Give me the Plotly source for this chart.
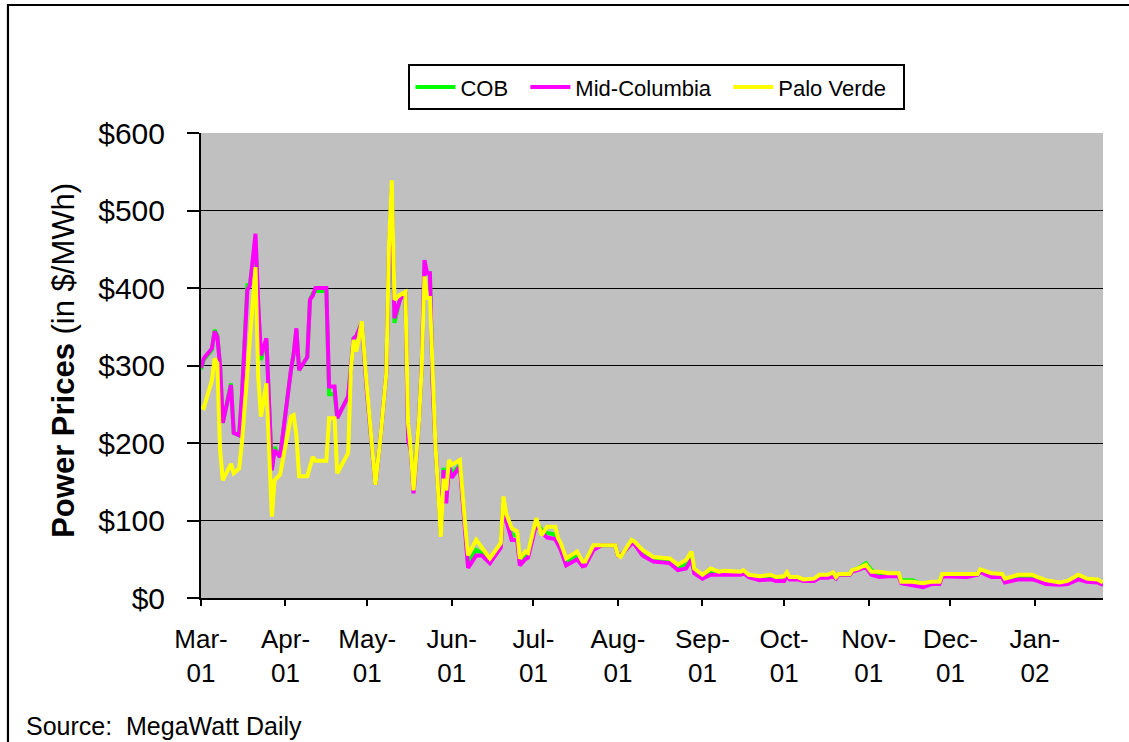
import pandas as pd
import plotly.graph_objects as go

# Day offsets from 2001-03-01
day_offsets = [0, 1, 4, 5, 6, 7, 8, 11, 12, 14, 15, 17, 18, 20, 21, 22, 24, 26, 27, 29,
               33, 34, 35, 36, 39, 40, 41, 42, 46, 47, 49, 50, 54, 55, 56, 57, 59, 61, 63, 64,
               66, 68, 69, 70, 71, 73, 75, 76, 77, 78, 80, 81, 82, 83, 84, 85, 86, 88, 89, 90,
               91, 92, 95, 97, 98, 101, 103, 106, 110, 111, 112, 114, 116, 117, 119, 120, 123, 125, 127, 130,
               131, 132, 134, 138, 140, 141, 144, 147, 152, 153, 154, 158, 159, 162, 166, 172, 175, 178, 180, 181,
               184, 187, 190, 192, 198, 199, 201, 205, 209, 211, 214, 215, 216, 219, 221, 225, 227, 230, 232, 233,
               234, 238, 239, 241, 244, 246, 249, 252, 256, 257, 261, 265, 268, 271, 272, 276, 281, 285, 286, 288,
               290, 294, 295, 300, 305, 307, 310, 315, 318, 322, 325, 329, 331]

cob = [295, 307, 320, 346, 339, 300, 226, 277, 213, 210, 262, 404, 406, 460, 375, 307, 333, 165, 195, 182,
       294, 315, 346, 294, 311, 385, 393, 396, 396, 263, 263, 232, 260, 300, 335, 338, 355, 262, 190, 146,
       212, 290, 450, 530, 355, 385, 395, 210, 192, 137, 230, 300, 425, 419, 419, 278, 200, 83, 168, 130,
       175, 160, 172, 88, 45, 62, 58, 48, 68, 128, 104, 82, 80, 46, 54, 55, 98, 88, 84, 82,
       73, 66, 46, 55, 44, 44, 65, 68, 68, 55, 54, 72, 71, 58, 50, 48, 39, 44, 55, 35,
       27, 34, 32, 32, 32, 34, 28, 25, 27, 24, 25, 30, 25, 25, 23, 23, 28, 28, 30, 26,
       30, 30, 36, 38, 45, 36, 30, 30, 30, 23, 23, 18, 20, 20, 30, 29, 29, 30, 36, 32,
       30, 29, 22, 27, 27, 24, 20, 18, 20, 27, 23, 22, 18]

mid_columbia = [297, 309, 322, 344, 337, 300, 226, 275, 213, 210, 260, 397, 404, 470, 380, 313, 335, 165, 191, 182,
                294, 315, 348, 294, 311, 385, 390, 400, 400, 273, 273, 232, 260, 300, 335, 338, 355, 262, 190, 146,
                212, 290, 450, 530, 361, 385, 395, 204, 190, 135, 230, 300, 436, 419, 419, 275, 200, 85, 165, 122,
                170, 155, 170, 85, 39, 55, 55, 45, 65, 125, 100, 75, 75, 42, 50, 52, 95, 85, 78, 76,
                70, 62, 42, 50, 41, 42, 62, 68, 68, 55, 55, 70, 70, 55, 47, 45, 36, 38, 50, 32,
                25, 30, 30, 30, 30, 32, 27, 23, 24, 22, 22, 28, 24, 24, 22, 22, 26, 26, 28, 25,
                30, 30, 34, 36, 40, 30, 27, 28, 28, 19, 17, 14, 18, 18, 28, 27, 27, 30, 34, 30,
                27, 27, 20, 24, 24, 22, 18, 17, 18, 24, 21, 20, 17]

palo_verde = [247, 245, 281, 309, 303, 191, 152, 173, 161, 167, 200, 294, 340, 427, 286, 234, 277, 105, 152, 159,
              234, 236, 210, 157, 157, 170, 182, 177, 177, 232, 232, 161, 187, 294, 333, 318, 357, 268, 187, 146,
              212, 290, 458, 539, 385, 391, 395, 225, 191, 139, 230, 298, 415, 387, 387, 281, 200, 79, 154, 139,
              178, 172, 178, 92, 55, 75, 66, 51, 71, 131, 109, 90, 86, 51, 60, 58, 103, 81, 92, 92,
              77, 71, 51, 60, 47, 47, 68, 68, 68, 55, 53, 75, 73, 62, 53, 51, 43, 49, 60, 38,
              30, 38, 34, 35, 34, 36, 30, 28, 30, 27, 28, 33, 27, 27, 24, 25, 30, 30, 33, 27,
              31, 31, 36, 38, 43, 34, 34, 32, 32, 21, 21, 19, 21, 21, 31, 31, 31, 31, 37, 34,
              32, 31, 25, 30, 30, 27, 23, 20, 22, 30, 25, 24, 20]

series_names = ["COB", "Mid-Columbia", "Palo Verde"]

month_ticks = ["2001-03-01", "2001-04-01", "2001-05-01", "2001-06-01", "2001-07-01", "2001-08-01",
               "2001-09-01", "2001-10-01", "2001-11-01", "2001-12-01", "2002-01-01"]
month_labels = ["Mar-<br>01", "Apr-<br>01", "May-<br>01", "Jun-<br>01", "Jul-<br>01", "Aug-<br>01",
                "Sep-<br>01", "Oct-<br>01", "Nov-<br>01", "Dec-<br>01", "Jan-<br>02"]

dates = pd.Timestamp("2001-03-01") + pd.to_timedelta(day_offsets, unit="D")

FONT = "Liberation Sans, Arial, sans-serif"
PAD = "\u00a0\u00a0"

fig = go.Figure()
for name, vals, color in zip(series_names, [cob, mid_columbia, palo_verde],
                             ["#00FF00", "#FF00FF", "#FFFF00"]):
    fig.add_trace(go.Scatter(x=dates, y=vals, name=name + PAD, mode="lines",
                             line=dict(color=color, width=4)))

fig.update_layout(
    width=1129, height=742,
    margin=dict(l=201, r=26, t=133, b=144),
    paper_bgcolor="white",
    plot_bgcolor="#C0C0C0",
    font=dict(family=FONT, color="black"),
    showlegend=True,
    legend=dict(orientation="h", x=0.5055, xanchor="center", y=1.148, yanchor="top",
                bordercolor="black", borderwidth=2, bgcolor="white",
                font=dict(size=22, family=FONT), itemwidth=40, tracegroupgap=0),
    xaxis=dict(
        range=["2001-03-01", "2002-01-26"],
        tickvals=month_ticks, ticktext=month_labels,
        ticks="outside", ticklen=6, tickwidth=2, tickcolor="black",
        showline=True, linecolor="black", linewidth=2,
        showgrid=False, zeroline=False,
        tickfont=dict(size=26, family=FONT),
        ticklabelstandoff=11,
    ),
    yaxis=dict(
        range=[0, 600], dtick=100, tickprefix="$",
        ticks="outside", ticklen=12, tickwidth=2, tickcolor="black",
        showline=True, linecolor="black", linewidth=2,
        showgrid=True, gridcolor="black", gridwidth=1,
        zeroline=False,
        tickfont=dict(size=30, family=FONT),
        ticklabelstandoff=16,
    ),
    annotations=[
        dict(text="<b>Power Prices</b> (in $/MWh)", textangle=-90,
             xref="paper", yref="paper", x=-0.152, y=0.512,
             xanchor="center", yanchor="middle", showarrow=False,
             font=dict(size=31, family=FONT)),
        dict(text="Source:\u00a0\u00a0MegaWatt Daily",
             xref="paper", yref="paper", x=-0.196, y=-0.2753,
             xanchor="left", yanchor="middle", showarrow=False,
             font=dict(size=25, family=FONT)),
    ],
    shapes=[
        dict(type="rect", xref="paper", yref="paper",
             x0=-0.2140, y0=-0.35, x1=1.05, y1=1.2753,
             line=dict(color="black", width=2.2), fillcolor="rgba(0,0,0,0)", layer="below"),
    ],
)

fig.write_html("out.html", config={"displayModeBar": False},
               post_script="document.body.style.margin='0px';")
